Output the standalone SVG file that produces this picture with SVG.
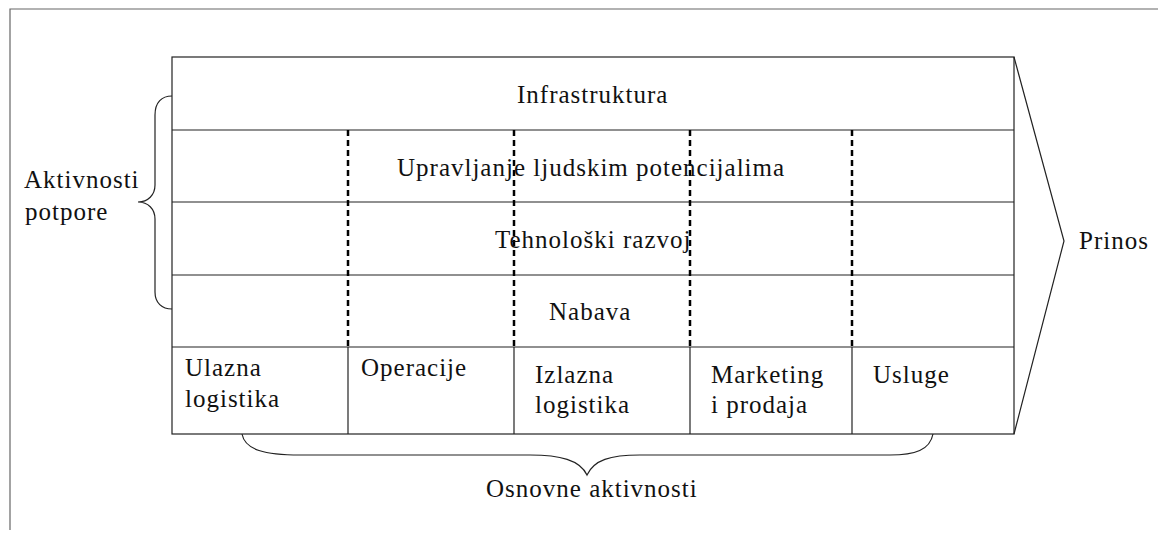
<svg xmlns="http://www.w3.org/2000/svg" width="1158" height="538" viewBox="0 0 1158 538">
<style>
text{font-family:"Liberation Serif","Times New Roman",serif;font-size:25px;letter-spacing:1px;fill:#111}
.frame{fill:none;stroke:#666;stroke-width:1.2}
.grid{fill:none;stroke:#222;stroke-width:1.2}
.dash{fill:none;stroke:#000;stroke-width:2.5;stroke-dasharray:6 4}
.brace{fill:none;stroke:#222;stroke-width:1.2}
</style>
<rect width="1158" height="538" fill="#fff"/>
<g id="frame">
<path class="frame" d="M10,530 L10,9 L1158,9"/>
</g>
<g id="chain">
<rect class="grid" x="172" y="57" width="842" height="377"/>
<line class="grid" x1="172" y1="130" x2="1014" y2="130"/>
<line class="grid" x1="172" y1="202" x2="1014" y2="202"/>
<line class="grid" x1="172" y1="275" x2="1014" y2="275"/>
<line class="grid" x1="172" y1="347" x2="1014" y2="347"/>
<path class="grid" d="M1014,57 L1064,241 L1014,434"/>
</g>
<g id="connectors">
<line class="dash" x1="348" y1="130" x2="348" y2="347"/>
<line class="dash" x1="514" y1="130" x2="514" y2="347"/>
<line class="dash" x1="690" y1="130" x2="690" y2="347"/>
<line class="dash" x1="852" y1="130" x2="852" y2="347"/>
<line class="grid" x1="348" y1="347" x2="348" y2="434"/>
<line class="grid" x1="514" y1="347" x2="514" y2="434"/>
<line class="grid" x1="690" y1="347" x2="690" y2="434"/>
<line class="grid" x1="852" y1="347" x2="852" y2="434"/>
<path class="brace" d="M172,96 C162,96 155,102 155,115 L155,185 C155,195 148,202 138,202 C148,202 155,209 155,219 L155,292 C155,303 162,309 172,309"/>
<path class="brace" d="M242,434 C245,450 265,455 300,455 L530,455 C560,455 580,460 587,475 C594,460 610,455 640,455 L890,455 C915,455 930,450 933,434"/>
</g>
<g id="support">
<text x="517" y="103">Infrastruktura</text>
<text x="397" y="176">Upravljanje ljudskim potencijalima</text>
<text x="495" y="248">Tehnološki razvoj</text>
<text x="549" y="320">Nabava</text>
</g>
<g id="primary">
<text x="185" y="376">Ulazna</text>
<text x="185" y="407">logistika</text>
<text x="361" y="376">Operacije</text>
<text x="535" y="383">Izlazna</text>
<text x="535" y="413">logistika</text>
<text x="711" y="383">Marketing</text>
<text x="711" y="413">i prodaja</text>
<text x="873" y="383">Usluge</text>
</g>
<g id="labels">
<text x="24" y="188">Aktivnosti</text>
<text x="25" y="220">potpore</text>
<text x="1079" y="249">Prinos</text>
<text x="486" y="497">Osnovne aktivnosti</text>
</g>
</svg>
